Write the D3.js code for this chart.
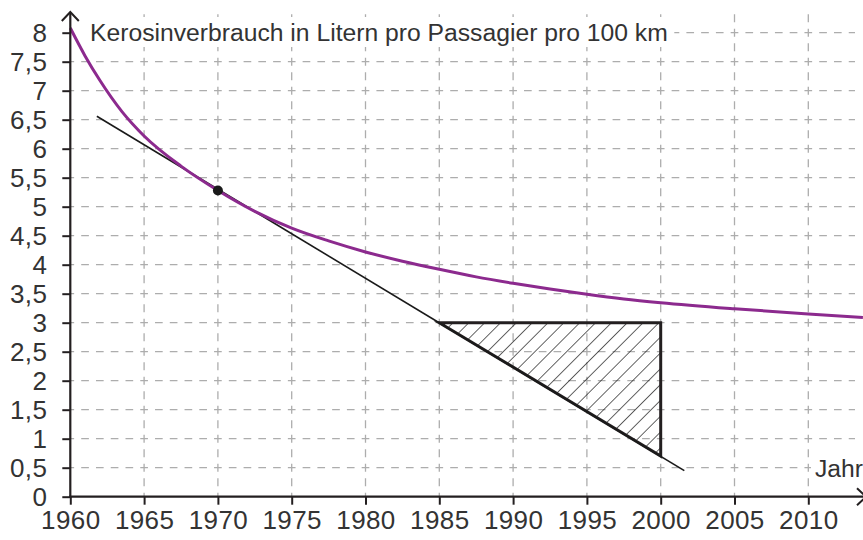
<!DOCTYPE html>
<html><head><meta charset="utf-8">
<script src="https://cdn.jsdelivr.net/npm/d3@7"></script>
<style>body{margin:0;background:#fff}svg{display:block}</style>
</head><body>
<svg id="chart" width="863" height="540"></svg>
<script>
// ---- data ----
const years = [1960, 1961, 1962, 1963.5, 1965, 1967.5, 1970, 1972.5, 1975, 1977.5, 1980, 1982.5, 1985, 1987.5, 1990, 1992.5, 1995, 1997.5, 2000, 2005, 2010, 2013.7];
const consumption = [8.08, 7.6, 7.18, 6.64, 6.22, 5.7, 5.28, 4.92, 4.63, 4.41, 4.22, 4.06, 3.92, 3.79, 3.68, 3.58, 3.49, 3.41, 3.345, 3.24, 3.15, 3.09];
const tangentYears = [1961.8, 2001.6];
const tangentValues = [6.56, 0.45];
const pointYears = [1970];
const pointValues = [5.28];
const triangleYears = [1985, 2000, 2000];
const triangleValues = [3, 3, 0.7];
const xTicks = [1960, 1965, 1970, 1975, 1980, 1985, 1990, 1995, 2000, 2005, 2010];
const yTicks = [0, 0.5, 1, 1.5, 2, 2.5, 3, 3.5, 4, 4.5, 5, 5.5, 6, 6.5, 7, 7.5, 8];
const yTickLabels = ["0", "0,5", "1", "1,5", "2", "2,5", "3", "3,5", "4", "4,5", "5", "5,5", "6", "6,5", "7", "7,5", "8"];
const titleText = "Kerosinverbrauch in Litern pro Passagier pro 100 km";
const xLabelText = "Jahr";

// ---- setup ----
const FONT = "'Liberation Sans', Arial, sans-serif";
const TXT = "#333";
const svg = d3.select("#chart");
const x = d3.scaleLinear().domain([1960, 2010]).range([70.3, 808.3]);
const y = d3.scaleLinear().domain([0, 8]).range([496.7, 32.7]);
const x0 = x(1960), y0 = y(0);

// hatch pattern
const defs = svg.append("defs");
const hp = 11.2;
defs.append("pattern")
  .attr("id", "hatch").attr("patternUnits", "userSpaceOnUse")
  .attr("width", hp).attr("height", hp)
  .attr("patternTransform", `translate(${x(2000) - 2.4},${y(3)}) rotate(45)`)
  .append("line").attr("x1", 0).attr("y1", -1).attr("x2", 0).attr("y2", hp + 1)
  .attr("stroke", "#111").attr("stroke-width", 1.3);

// grid
const gridColor = "#adadad";
const hPeriod = (x(1965) - x(1960)) / 5;
const vPeriod = (y(0) - y(0.5)) / 2;
const gGrid = svg.append("g");
gGrid.selectAll("line.h").data(yTicks.filter(d => d > 0)).join("line")
  .attr("x1", x0).attr("x2", 855)
  .attr("y1", d => y(d)).attr("y2", d => y(d))
  .attr("stroke", gridColor).attr("stroke-width", 1.3)
  .attr("stroke-dasharray", `${hPeriod * 0.52} ${hPeriod * 0.48}`)
  .attr("stroke-dashoffset", hPeriod * 0.26);
gGrid.selectAll("line.v").data(xTicks.filter(d => d > 1960)).join("line")
  .attr("x1", d => x(d)).attr("x2", d => x(d))
  .attr("y1", y0).attr("y2", y(8) - 21)
  .attr("stroke", gridColor).attr("stroke-width", 1.3)
  .attr("stroke-dasharray", `${vPeriod * 0.55} ${vPeriod * 0.45}`)
  .attr("stroke-dashoffset", vPeriod * 0.275);

// white boxes behind labels
svg.append("rect").attr("x", x0 + 2).attr("y", 17).attr("width", 602).attr("height", 30).attr("fill", "#fff");
svg.append("rect").attr("x", 811).attr("y", 454).attr("width", 60).attr("height", 27).attr("fill", "#fff");

// hatched triangle
const tri = triangleYears.map((d, i) => [x(d), y(triangleValues[i])]);
svg.append("path")
  .attr("d", d3.line()(tri) + "Z")
  .attr("fill", "url(#hatch)")
  .attr("stroke", "#231f20").attr("stroke-width", 3).attr("stroke-linejoin", "miter");

// tangent line
svg.append("path")
  .attr("d", d3.line().x(d => x(d)).y((d, i) => y(tangentValues[i]))(tangentYears))
  .attr("fill", "none").attr("stroke", "#1a1a1a").attr("stroke-width", 1.6);

// curve
svg.append("path")
  .datum(years.map((d, i) => [d, consumption[i]]))
  .attr("d", d3.line().x(d => x(d[0])).y(d => y(d[1])).curve(d3.curveMonotoneX))
  .attr("fill", "none").attr("stroke", "#8c2a8e").attr("stroke-width", 3);

// point
svg.selectAll("circle.pt").data(pointYears).join("circle")
  .attr("cx", d => x(d)).attr("cy", (d, i) => y(pointValues[i])).attr("r", 5).attr("fill", "#1a1a1a");

// axes
const axisColor = "#231f20";
const yAxis = svg.append("g").attr("transform", `translate(${x0},0)`)
  .call(d3.axisLeft(y).tickValues(yTicks).tickSize(8).tickPadding(15)
    .tickFormat((d, i) => yTickLabels[i]));
const xAxis = svg.append("g").attr("transform", `translate(0,${y0})`)
  .call(d3.axisBottom(x).tickValues(xTicks).tickSize(8).tickPadding(6)
    .tickFormat(d => String(d)));
[yAxis, xAxis].forEach(g => {
  g.select(".domain").remove();
  g.selectAll(".tick line").attr("stroke", axisColor).attr("stroke-width", 2);
  g.selectAll(".tick text").attr("fill", TXT).style("font-family", FONT)
    .style("font-size", "26px").style("letter-spacing", "0.4px");
});
// axis lines with arrows
svg.append("line").attr("x1", x0).attr("x2", x0).attr("y1", y0 + 1).attr("y2", 12)
  .attr("stroke", axisColor).attr("stroke-width", 2.2);
svg.append("path").attr("d", `M${x0 - 8.5},21 L${x0},12 L${x0 + 8.5},21`)
  .attr("fill", "none").attr("stroke", axisColor).attr("stroke-width", 2);
svg.append("line").attr("x1", x0 - 1).attr("x2", 866).attr("y1", y0).attr("y2", y0)
  .attr("stroke", axisColor).attr("stroke-width", 2.2);
svg.append("path").attr("d", `M857,${y0 - 8.5} L866,${y0} L857,${y0 + 8.5}`)
  .attr("fill", "none").attr("stroke", axisColor).attr("stroke-width", 2);

// title + axis label
svg.append("text").attr("x", 90).attr("y", 40.5)
  .attr("fill", TXT).style("font-family", FONT).style("font-size", "24.7px").text(titleText);
svg.append("text").attr("x", 863).attr("y", 477).attr("text-anchor", "end")
  .attr("fill", TXT).style("font-family", FONT).style("font-size", "24.7px").text(xLabelText);
</script>
</body></html>
